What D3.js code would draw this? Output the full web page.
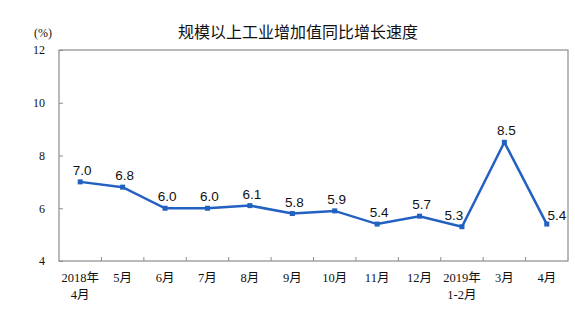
<!DOCTYPE html>
<html><head><meta charset="utf-8">
<script src="https://cdn.jsdelivr.net/npm/d3@7"></script>
<style>body{margin:0;background:#fff}svg{display:block}</style>
</head><body>
<script>
const categories = ["2018年\n4月","5月","6月","7月","8月","9月","10月","11月","12月","2019年\n1-2月","3月","4月"];
const values = [7.0,6.8,6.0,6.0,6.1,5.8,5.9,5.4,5.7,5.3,8.5,5.4];
const yTicks = [4,6,8,10,12];
const title = "规模以上工业增加值同比增长速度";
const unit = "(%)";

const W=575,H=327, L=59, R=568, T=50, B=261;
const svg=d3.select("body").append("svg").attr("width",W).attr("height",H);
const x=d3.scaleBand().domain(categories).range([L,R]);
const y=d3.scaleLinear().domain([4,12]).range([B,T]);
const serif='"Liberation Serif","Times New Roman","Noto Sans CJK SC",serif';
const axisColor="#8c8c8c";

// frame
svg.append("rect").attr("x",L).attr("y",T).attr("width",R-L).attr("height",B-T)
  .attr("fill","none").attr("stroke",axisColor).attr("stroke-width",1.2);

// y axis
const ya=svg.append("g").attr("transform",`translate(${L},0)`)
  .call(d3.axisLeft(y).tickValues(yTicks).tickSize(-4).tickPadding(14).tickFormat(d3.format("d")));
ya.select(".domain").remove();
ya.selectAll("line").attr("stroke",axisColor);
ya.selectAll("text").attr("font-family",serif).attr("font-size",12).attr("fill","#111");

// x axis ticks at band boundaries (inward)
const xa=svg.append("g").attr("transform",`translate(0,${B})`)
  .call(d3.axisBottom(x).tickSize(0).tickFormat(""));
xa.select(".domain").remove();
svg.append("g").selectAll("line").data(categories.slice(1)).join("line")
  .attr("x1",d=>x(d)).attr("x2",d=>x(d)).attr("y1",B).attr("y2",B-4)
  .attr("stroke",axisColor);

// x labels
const xl=svg.append("g").selectAll("text").data(categories).join("text")
  .attr("x",d=>x(d)+x.bandwidth()/2).attr("y",B+21)
  .attr("text-anchor","middle").attr("font-family",serif).attr("font-size",12.5).attr("fill","#111");
xl.each(function(d){
  const parts=d.split("\n");
  d3.select(this).selectAll("tspan").data(parts).join("tspan")
    .attr("x",x(d)+x.bandwidth()/2).attr("dy",(p,i)=>i?17:0).text(p=>p);
});

// line
const cx=(d,i)=>x(categories[i])+x.bandwidth()/2;
svg.append("path").datum(values)
  .attr("d",d3.line().x(cx).y(d=>y(d)))
  .attr("fill","none").attr("stroke","#2260c2").attr("stroke-width",2.5);
svg.append("g").selectAll("rect").data(values).join("rect")
  .attr("x",(d,i)=>cx(d,i)-2.5).attr("y",d=>y(d)-2.5).attr("width",5).attr("height",5)
  .attr("fill","#2260c2");

// value labels
const n=values.length;
svg.append("g").selectAll("text").data(values).join("text")
  .attr("x",(d,i)=>cx(d,i)+(i===n-1?10:(i===n-3?-8:2)))
  .attr("y",(d,i)=>i===n-1?y(d)-4:y(d)-7)
  .attr("text-anchor","middle")
  .attr("font-family",'"Liberation Sans",Arial,sans-serif').attr("font-size",13.5).attr("fill","#111")
  .text(d=>d.toFixed(1));

// title & unit
svg.append("text").attr("x",298).attr("y",38).attr("text-anchor","middle")
  .attr("font-family",'"Noto Sans CJK SC",sans-serif').attr("font-size",16).attr("fill","#111").text(title);
svg.append("text").attr("x",43).attr("y",37).attr("text-anchor","middle")
  .attr("font-family",serif).attr("font-size",12).attr("fill","#111").text(unit);
</script>
</body></html>
